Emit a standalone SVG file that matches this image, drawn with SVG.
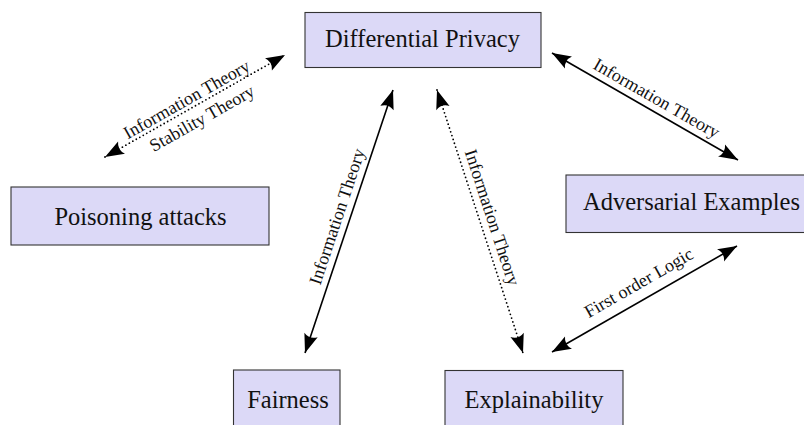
<svg xmlns="http://www.w3.org/2000/svg" width="804" height="425" viewBox="0 0 804 425">
<style>
.box{fill:#dcd9f7;stroke:#333;stroke-width:1.1}
.nt{font-family:"Liberation Serif",serif;font-size:24.5px;fill:#111;text-anchor:middle}
.el{font-family:"Liberation Serif",serif;font-size:18px;fill:#111;text-anchor:middle}
.solid{stroke:#000;stroke-width:1.6;fill:none}
.dot{stroke:#000;stroke-width:1.8;fill:none;stroke-dasharray:0 4;stroke-linecap:round}
</style>
<defs>
<marker id="ah" markerUnits="userSpaceOnUse" markerWidth="26" markerHeight="20" viewBox="-22 -10 26 20" refX="0" refY="0" orient="auto-start-reverse">
<path d="M0,0 L-19,-7 Q-14,0 -19,7 Z" fill="#000"/>
</marker>
</defs>
<g id="connectors">
<line class="dot" x1="105" y1="157" x2="285" y2="55" marker-start="url(#ah)" marker-end="url(#ah)"/>
<line class="solid" x1="552" y1="53" x2="738" y2="160" marker-start="url(#ah)" marker-end="url(#ah)"/>
<line class="solid" x1="393" y1="90" x2="305" y2="353" marker-start="url(#ah)" marker-end="url(#ah)"/>
<line class="dot" x1="437" y1="90" x2="523" y2="353" marker-start="url(#ah)" marker-end="url(#ah)"/>
<line class="solid" x1="552" y1="352" x2="737" y2="246" marker-start="url(#ah)" marker-end="url(#ah)"/>
<g transform="translate(195,106) rotate(-29.5)">
<text class="el" x="-4" y="-4">Information Theory</text>
<text class="el" x="0" y="20">Stability Theory</text>
</g>
<text class="el" transform="translate(645,106.5) rotate(29.9)" x="6" y="-7">Information Theory</text>
<text class="el" transform="translate(349,221.5) rotate(-71.5)" x="1" y="-7">Information Theory</text>
<text class="el" transform="translate(480,221.5) rotate(71.9)" x="0" y="-7">Information Theory</text>
<text class="el" transform="translate(644.5,299) rotate(-29.8)" x="3" y="-11">First order Logic</text>
</g>
<g id="dp"><rect class="box" x="305" y="12.5" width="236" height="55"/><text class="nt" x="422.5" y="47">Differential Privacy</text></g>
<g id="poisoning"><rect class="box" x="11" y="187" width="258" height="58"/><text class="nt" x="140.5" y="225">Poisoning attacks</text></g>
<g id="adversarial"><rect class="box" x="566" y="175" width="245" height="57.5"/><text class="nt" x="691.5" y="210">Adversarial Examples</text></g>
<g id="fairness"><rect class="box" x="233.5" y="370" width="106.5" height="60"/><text class="nt" x="288" y="408">Fairness</text></g>
<g id="explainability"><rect class="box" x="445" y="370.5" width="178" height="60"/><text class="nt" x="534" y="408">Explainability</text></g>
</svg>
